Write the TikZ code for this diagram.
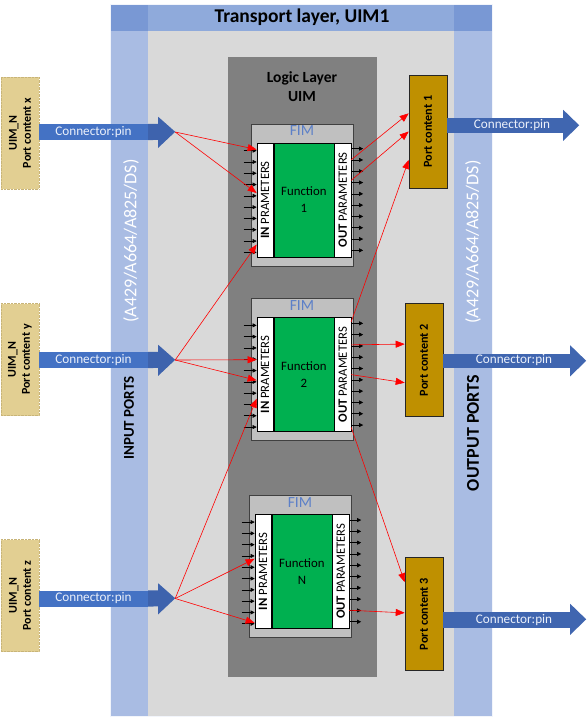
\documentclass[tikz,border=0pt]{standalone}
\usepackage{fontspec}
\setmainfont{Carlito}
\usetikzlibrary{positioning,calc,arrows.meta}
\definecolor{bandblue}{RGB}{169,188,227}
\definecolor{titleblue}{RGB}{143,170,219}
\definecolor{titledark}{RGB}{121,152,212}
\definecolor{lightgrey}{RGB}{217,217,217}
\definecolor{logicgrey}{RGB}{128,128,128}
\definecolor{fimgrey}{RGB}{192,192,192}
\definecolor{fungreen}{RGB}{0,176,80}
\definecolor{gold}{RGB}{191,144,0}
\definecolor{tan}{RGB}{226,207,146}
\definecolor{connblue}{RGB}{68,114,196}
\definecolor{conndark}{RGB}{62,99,173}
\definecolor{outblue}{RGB}{64,102,176}
\definecolor{fimblue}{RGB}{92,128,200}
\tikzset{
  sig/.style={red, line width=0.6pt, -{Triangle[length=9pt,width=7pt]}},
  pinarrow/.style={black, line width=0.6pt, -{Triangle[length=4pt,width=4pt]}},
  fim/.style={draw={rgb,255:red,64;green,64;blue,64}, fill=fimgrey, line width=0.7pt,
    minimum width=102pt, minimum height=142pt, inner sep=0pt},
  parbox/.style={draw=black, fill=white, line width=0.5pt, minimum width=16.5pt,
    minimum height=114pt, inner sep=0pt},
  funbox/.style={draw=black, fill=fungreen, line width=0.5pt, minimum width=60pt,
    minimum height=114pt, inner sep=0pt, align=center,
    font=\fontsize{12.8}{17}\selectfont},
  partext/.style={rotate=90, inner sep=0pt, font=\fontsize{12.7}{14}\selectfont},
  fimtext/.style={text=fimblue, inner sep=0pt, font=\fontsize{15.5}{17}\selectfont},
  portbox/.style={draw=black!85, fill=gold, line width=0.6pt, minimum width=38pt,
    minimum height=113pt, inner sep=0pt},
  porttext/.style={rotate=90, inner sep=0pt, font=\bfseries\fontsize{12.2}{14}\selectfont},
  uimbox/.style={draw={rgb,255:red,200;green,180;blue,120}, densely dotted, fill=tan,
    minimum width=38pt, minimum height=112pt, inner sep=0pt},
  uimtext/.style={rotate=90, inner sep=0pt, align=center,
    font=\bfseries\fontsize{12}{14}\selectfont},
  conn/.style={fill=connblue, text={rgb,255:red,235;green,240;blue,250}, minimum width=109pt,
    minimum height=16pt, inner sep=0pt, font=\fontsize{13.2}{15}\selectfont},
  connout/.style={fill=outblue, text={rgb,255:red,235;green,240;blue,250}, minimum width=127pt,
    minimum height=15pt, inner sep=0pt, font=\fontsize{13.2}{15}\selectfont},
  bandtext/.style={rotate=90, text=white, inner sep=0pt, font=\fontsize{18}{20}\selectfont},
  bandbold/.style={rotate=90, inner sep=0pt, font=\bfseries\fontsize{15}{17}\selectfont},
}
\begin{document}
\begin{tikzpicture}[x=1pt,y=-1pt]
\useasboundingbox (0,0) rectangle (587,717);
%% transport layer
\fill[lightgrey] (148,31) rectangle (454,716);
\fill[bandblue] (110,31) rectangle (148,716);
\fill[bandblue] (454,31) rectangle (492,716);
\fill[titleblue] (110,4) rectangle (492,31);
\fill[titledark] (110,4) rectangle (148,31);
\fill[titledark] (454,4) rectangle (492,31);
\draw[white!85!bandblue, line width=0.6pt] (110,4) rectangle (492,716);
\node[inner sep=0pt, font=\bfseries\fontsize{19.5}{21}\selectfont] (tl) at (302,17.5) {Transport layer, UIM1};
\node[bandtext] (inbus) at (131,241) {(A429/A664/A825/DS)};
\node[bandbold] (inports) at (129,418) {INPUT PORTS};
\node[bandtext] (outbus) at (473,242) {(A429/A664/A825/DS)};
\node[bandbold, font=\bfseries\fontsize{18}{20}\selectfont] (outports) at (473,433) {OUTPUT PORTS};
%% logic layer
\fill[logicgrey] (228,57) rectangle (377,677);
\node[inner sep=0pt, align=center, font=\bfseries\fontsize{15.5}{19}\selectfont] (logic) at (302,87) {Logic Layer\\UIM};
%% FIM blocks
\node[fim] (fim1) at (302,195) {};
\node[fim, below=32pt of fim1] (fim2) {};
\node[fim, below=54pt of fim2, xshift=-2pt] (fim3) {};
\foreach \f/\n in {1/1,2/2,3/N}{
  \node[fimtext, below=2pt of fim\f.north] (fimlab\f) {FIM};
  \node[parbox, anchor=north west] (in\f) at ([xshift=6pt,yshift=-19pt]fim\f.north west) {};
  \node[funbox, right=0pt of in\f] (fun\f) {Function\\\n};
  \node[parbox, right=0pt of fun\f] (out\f) {};
  \node[partext] (intext\f) at (in\f) {\textbf{IN} PRAMETERS};
  \node[partext] (outtext\f) at (out\f) {\textbf{OUT} PARAMETERS};
  \foreach \k in {0,...,9}{
    \draw[pinarrow] ([xshift=-13pt,yshift={-(8+11.3*\k)*1pt}]in\f.north west) -- ++(13,0);
    \draw[pinarrow] ([yshift={-(6+11.3*\k)*1pt}]out\f.north east) -- ++(12,0);
  }
}
%% port contents
\node[portbox] (pc1) at (428,131.5) {};
\node[porttext] at (pc1) {Port content 1};
\node[portbox] (pc2) at (424,360) {};
\node[porttext] at (pc2) {Port content 2};
\node[portbox] (pc3) at (424,614) {};
\node[porttext] at (pc3) {Port content 3};
%% UIM_N inputs
\node[uimbox] (uimx) at (20,133) {};
\node[uimtext] at (uimx) {UIM\_N\\Port content x};
\node[uimbox] (uimy) at (20,359.5) {};
\node[uimtext] at (uimy) {UIM\_N\\Port content y};
\node[uimbox] (uimz) at (20,595.5) {};
\node[uimtext] at (uimz) {UIM\_N\\Port content z};
%% input connectors
\node[conn] (connx) at (93.5,132) {Connector:pin};
\node[conn] (conny) at (93.5,360) {Connector:pin};
\node[conn] (connz) at (93.5,598.5) {Connector:pin};
\foreach \c in {x,y,z}{
  \fill[conndark] (conn\c.north east) -- ++(10,0) -- ++(0,-7) -- ++(17,15) -- ++(-17,16)
    -- ++(0,-8) -- (conn\c.south east) -- cycle;
  \coordinate (tip\c) at ([xshift=27pt]conn\c.east);
}
%% output connectors
\node[connout, minimum width=116pt] (outc1) at (505,125.5) {\hspace*{14pt}Connector:pin};
\node[connout, minimum height=14pt] (outc2) at (506.5,360.5) {\hspace*{15pt}Connector:pin};
\node[connout, minimum height=16pt] (outc3) at (506.5,620) {\hspace*{15pt}Connector:pin};
\foreach \c in {1,2,3}{
  \fill[outblue] (outc\c.north east) -- ++(0,-8) -- ++(16,15.5) -- ++(-16,15.5)
    -- (outc\c.south east) -- cycle;
}
%% signal routing
\draw[sig] (tipx) -- ($(in1.north west)!0.06!(in1.south west)$);
\draw[sig] (tipx) -- ($(in1.north west)!0.44!(in1.south west)$);
\draw[sig] (tipy) -- ($(in1.north west)!0.89!(in1.south west)$);
\draw[sig] (tipy) -- ($(in2.north west)!0.37!(in2.south west)$);
\draw[sig] (tipy) -- ($(in2.north west)!0.55!(in2.south west)$);
\draw[sig] (tipz) -- ($(in2.north west)!0.71!(in2.south west)$);
\draw[sig] (tipz) -- ($(in3.north west)!0.39!(in3.south west)$);
\draw[sig] (tipz) -- ($(in3.north west)!0.95!(in3.south west)$);
\draw[sig] ($(out1.north east)!0.15!(out1.south east)$) -- ($(pc1.north west)!0.34!(pc1.south west)$);
\draw[sig] ($(out1.north east)!0.33!(out1.south east)$) -- ($(pc1.north west)!0.5!(pc1.south west)$);
\draw[sig] ($(out2.north east)!0.04!(out2.south east)$) -- ($(pc1.north west)!0.75!(pc1.south west)$);
\draw[sig] ($(out2.north east)!0.24!(out2.south east)$) -- ($(pc2.north west)!0.36!(pc2.south west)$);
\draw[sig] ($(out2.north east)!0.5!(out2.south east)$) -- ($(pc2.north west)!0.7!(pc2.south west)$);
\draw[sig] ($(out2.north east)!0.96!(out2.south east)$) -- ($(pc3.north west)!0.22!(pc3.south west)$);
\draw[sig] ($(out3.north east)!0.84!(out3.south east)$) -- ($(pc3.north west)!0.49!(pc3.south west)$);
\end{tikzpicture}
\end{document}
